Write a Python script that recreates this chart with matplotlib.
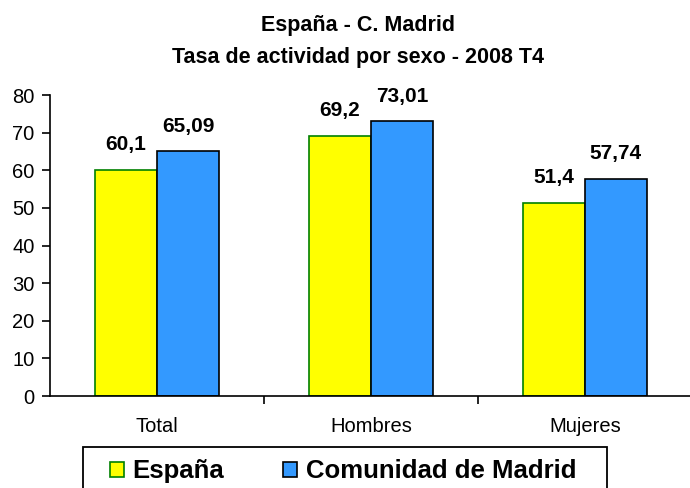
import matplotlib.pyplot as plt
from matplotlib.patches import Rectangle
import numpy as np

plt.rcParams["font.family"] = ["Liberation Sans", "DejaVu Sans"]

categories = ["Total", "Hombres", "Mujeres"]
espana = [60.1, 69.2, 51.4]
madrid = [65.09, 73.01, 57.74]
espana_labels = ["60,1", "69,2", "51,4"]
madrid_labels = ["65,09", "73,01", "57,74"]
yticks = [0, 10, 20, 30, 40, 50, 60, 70, 80]

fig = plt.figure(figsize=(6.9, 4.88), dpi=100)
ax = fig.add_axes([0.0725, 0.1885, 0.93, 0.6168])

x = np.arange(len(categories))
w = 0.29
b1 = ax.bar(x - w / 2, espana, w, color="#FFFF00", edgecolor="#008000",
            linewidth=1.2, label="España")
b2 = ax.bar(x + w / 2, madrid, w, color="#3399FF", edgecolor="#000000",
            linewidth=1.2, label="Comunidad de Madrid")

for bars, labels in [(b1, espana_labels), (b2, madrid_labels)]:
    for rect, lab in zip(bars, labels):
        ax.annotate(lab, (rect.get_x() + rect.get_width() / 2, rect.get_height()),
                    xytext=(0, 14), textcoords="offset points", ha="center",
                    va="baseline", fontsize=15, fontweight="bold")

ax.set_xlim(-0.5, 2.5)
ax.set_ylim(0, 80)
ax.set_yticks(yticks)
ax.tick_params(axis="y", labelsize=14.5, direction="out", length=6, width=1.2,
               pad=5)
ax.set_xticks(x)
ax.set_xticklabels(categories, fontsize=14.5)
ax.tick_params(axis="x", length=0, pad=15)
ax.set_xticks([0.5, 1.5], minor=True)
ax.tick_params(axis="x", which="minor", direction="out", length=6, width=1.2)
for s in ["top", "right"]:
    ax.spines[s].set_visible(False)
ax.spines["left"].set_linewidth(1.2)
ax.spines["bottom"].set_linewidth(1.2)

fig.text(0.519, 0.9365, "España - C. Madrid", ha="center", va="baseline",
         fontsize=15.5, fontweight="bold")
fig.text(0.519, 0.871, "Tasa de actividad por sexo - 2008 T4", ha="center",
         va="baseline", fontsize=15.5, fontweight="bold")

# legend frame runs off the bottom edge as in the original export
fig.patches.append(Rectangle((0.1203, -0.02), 0.7594, 0.104,
                             transform=fig.transFigure, facecolor="none",
                             edgecolor="black", linewidth=1.3))
fig.legend(loc="center", bbox_to_anchor=(0.497, 0.034), ncol=2,
           frameon=False, prop={"size": 18.5, "weight": "bold"},
           handlelength=0.56, handleheight=0.56, handletextpad=0.32,
           columnspacing=2.3, borderpad=0, borderaxespad=0)

fig.savefig("out.png", dpi=100)
